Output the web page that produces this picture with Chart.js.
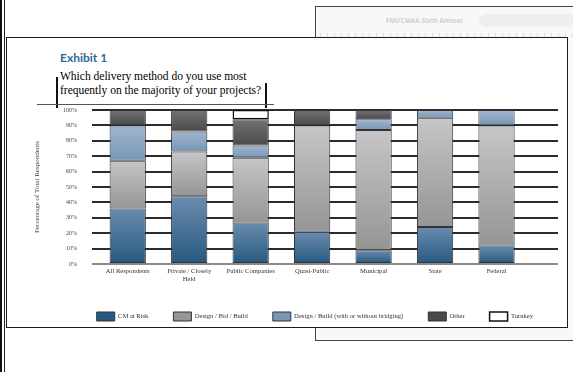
<!DOCTYPE html>
<html>
<head>
<meta charset="utf-8">
<script src="https://cdn.jsdelivr.net/npm/chart.js@4"></script>
<style>
  html, body { margin: 0; padding: 0; }
  body { width: 573px; height: 372px; position: relative; overflow: hidden; background: #fff; }
  .abs { position: absolute; }
  #edge1 { left: 0; top: 0; width: 2px; height: 372px; background: #111; }
  #edge2 { left: 4px; top: 0; width: 1px; height: 372px; background: #222; }
  #sheet { left: 315px; top: 6px; width: 270px; height: 335px; box-sizing: border-box;
           border: 1.5px solid #444; border-right: none; background: #f8f8f8; }
  #sheetHead { left: 70px; top: 9px; font: bold 6.5px "Open Sans", sans-serif; color: #cfcfcf; white-space: nowrap; }
  #sheetPill { left: 163px; top: 7px; width: 100px; height: 13px; border-radius: 7px; background: #efefef; }
  #sheetTicks { left: 4px; top: 26px; width: 260px; height: 4px;
                background: repeating-linear-gradient(90deg, #dedede 0 1px, transparent 1px 7px); }
  #box { left: 6px; top: 37px; width: 562px; height: 291px; box-sizing: border-box;
         border: 1.5px solid #1a1a1a; background: #fff; }
  #exhibit { left: 60px; top: 50px; font: bold 12px Lato, sans-serif; color: #2f6a97; white-space: nowrap; }
  #question { left: 60px; top: 70px; font: 11.5px "Liberation Serif", serif; line-height: 13.5px; color: #000; white-space: nowrap; }
  #brL { left: 56px; top: 77px; width: 1.5px; height: 31px; background: #111; }
  #brR { left: 265px; top: 83px; width: 1.5px; height: 25px; background: #111; }
  #brH { left: 37px; top: 103.5px; width: 237px; height: 1.5px; background: #555; }
  #wrap { left: 7px; top: 38px; width: 560px; height: 296px; }
</style>
</head>
<body>
<div id="edge1" class="abs"></div>
<div id="edge2" class="abs"></div>
<div id="sheet" class="abs">
  <div id="sheetHead" class="abs">FMI/CMAA Sixth Annual</div>
  <div id="sheetPill" class="abs"></div>
  <div id="sheetTicks" class="abs"></div>
</div>
<div id="box" class="abs"></div>
<div id="exhibit" class="abs">Exhibit 1</div>
<div id="question" class="abs">Which delivery method do you use most<br>frequently on the majority of your projects?</div>
<div id="brL" class="abs"></div>
<div id="brR" class="abs"></div>
<div id="brH" class="abs"></div>
<div id="wrap" class="abs"><canvas id="chart" width="560" height="296"></canvas></div>

<script>
// categorias (eixo x) e séries em %
const categories = ['All Respondents', ['Private / Closely', 'Held'], 'Public Companies', 'Quasi-Public', 'Municipal', 'State', 'Federal'];
const seriesNames = ['CM at Risk', 'Design / Bid / Build', 'Design / Build (with or without bridging)', 'Other', 'Turnkey'];
const cmAtRisk       = [36, 44, 27, 21,  9, 24, 12];
const designBidBuild = [31, 29, 42, 69, 78, 71, 78];
const designBuild    = [23, 13,  8,  0,  7,  5, 10];
const other          = [10, 14, 17, 10,  6,  0,  0];
const turnkey        = [ 0,  0,  6,  0,  0,  0,  0];
const yTickStep = 10; // 0% .. 100%

const serif = '"Liberation Serif", "Times New Roman", serif';

// gradiente vertical por segmento (claro em cima, escuro embaixo)
function shade(top, bottom, flat) {
  return c => {
    const chart = c.chart;
    const y = chart.scales.y;
    if (c.type !== 'data' || !chart.chartArea || !y) return flat;
    const i = c.dataIndex, d = c.datasetIndex;
    let base = 0;
    for (let k = 0; k < d; k++) base += chart.data.datasets[k].data[i].y;
    const v = chart.data.datasets[d].data[i].y;
    const y0 = y.getPixelForValue(base), y1 = y.getPixelForValue(base + v);
    if (!v || !isFinite(y0) || !isFinite(y1)) return flat;
    const g = chart.ctx.createLinearGradient(0, y1, 0, y0);
    g.addColorStop(0, top);
    g.addColorStop(1, bottom);
    return g;
  };
}

const toPoints = arr => arr.map((v, i) => ({ x: i, y: v }));

const series = [cmAtRisk, designBidBuild, designBuild, other, turnkey];
const fills = [
  shade('#6a8cae', '#265880', '#3f6d96'),
  shade('#c6c6c8', '#959595', '#a9a9a9'),
  shade('#a0b6ce', '#7896b6', '#8aa4c1'),
  shade('#727272', '#4a4a4a', '#555555'),
  '#ffffff'
];

const datasets = series.map((data, k) => ({
  label: seriesNames[k],
  data: toPoints(data),
  backgroundColor: fills[k],
  borderColor: k === 4 ? '#111' : '#333',
  borderWidth: k === 4 ? 1.5 : 1,
  borderSkipped: false,
  categoryPercentage: 1,
  barPercentage: 0.59
}));

new Chart(document.getElementById('chart'), {
  type: 'bar',
  data: { datasets },
  options: {
    responsive: false,
    animation: false,
    layout: { padding: { top: 72, right: 9, bottom: 3, left: 0 } },
    plugins: {
      legend: {
        position: 'bottom',
        align: 'end',
        labels: {
          boxWidth: 18,
          boxHeight: 9,
          padding: 25,
          color: '#333',
          font: { family: serif, size: 6.6 }
        }
      },
      tooltip: { enabled: false }
    },
    scales: {
      x: {
        type: 'linear',
        offset: false,
        stacked: true,
        min: -0.5,
        max: 7,
        grid: { display: false, offset: false, drawTicks: false, tickLength: 0 },
        border: { display: false },
        ticks: {
          stepSize: 1,
          includeBounds: false,
          autoSkip: false,
          maxRotation: 0,
          padding: 3,
          color: '#333',
          font: { family: serif, size: 6.6 },
          callback: v => (Number.isInteger(v) && categories[v] !== undefined) ? categories[v] : ''
        },
        afterFit: s => { s.height = 23; }
      },
      y: {
        stacked: true,
        min: 0,
        max: 100,
        border: { display: false },
        grid: {
          color: c => (c.tick && c.tick.value === 0) ? '#8a8a8a' : '#2b2b2b',
          lineWidth: 2,
          tickLength: 5
        },
        ticks: {
          stepSize: yTickStep,
          padding: 15,
          color: '#444',
          font: { family: serif, size: 6 },
          callback: v => v + '%'
        },
        title: {
          display: true,
          text: 'Percentage of Total Respondents',
          color: '#444',
          font: { family: serif, size: 7 },
          padding: { top: 26, bottom: 0 }
        },
        afterFit: s => { s.width = 90; }
      }
    }
  }
});
</script>
</body>
</html>
